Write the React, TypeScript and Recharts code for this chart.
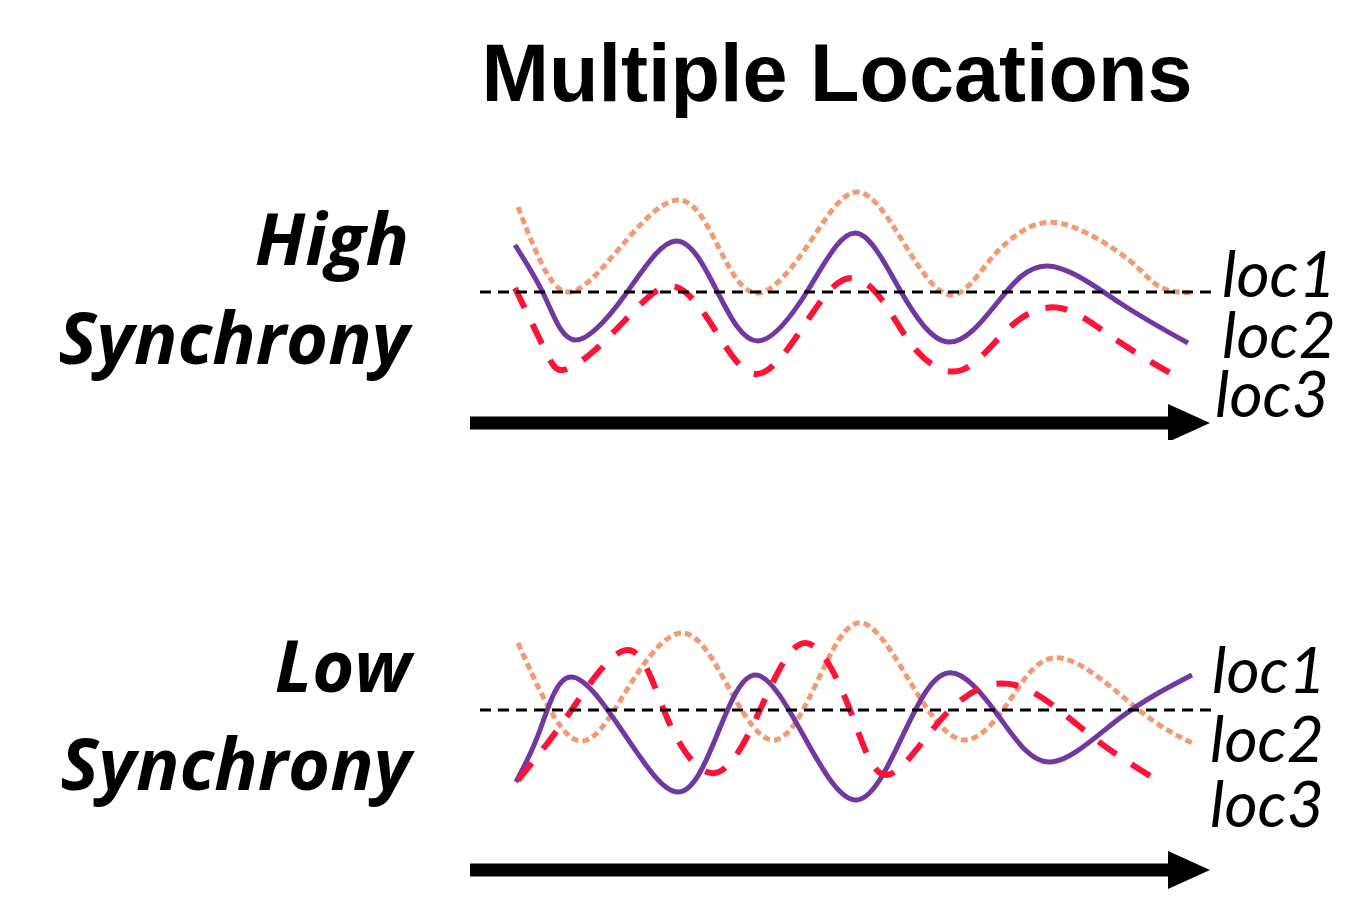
import React from "react";
import { LineChart, Line, XAxis, YAxis, ReferenceLine } from "recharts";

// time (t) and level (v) readings for each location, high synchrony panel
const highLoc1T = [4.8, 7, 10, 14.8, 20.8, 25, 28.8, 33.8, 38.7, 43.5, 48, 52, 56, 60.3, 65.9, 69, 72.5];
const highLoc1V = [8.5, 3.2, 0, 4.2, 9.2, 4.2, -0.1, 4.7, 10, 4.7, -0.3, 3.2, 6.5, 6.5, 3.2, 0.5, -0.1];
const highLoc2T = [4.5, 7.5, 10.5, 15.5, 20.6, 24.8, 28.8, 33.8, 38.5, 43, 47.8, 52.7, 57.8, 65, 71.8];
const highLoc2V = [4.7, -0.5, -4.8, -0.3, 5.1, -0.1, -4.9, 0.2, 5.9, 0.2, -5, -1.1, 2.6, -1.1, -5.1];
const highLoc3T = [4.5, 7.5, 9.3, 12.5, 16.5, 20.6, 24.7, 28.6, 32.9, 37.3, 41.2, 44.6, 49.2, 54, 59, 64.2, 69.5, 71];
const highLoc3V = [0.4, -5.8, -7.8, -5.8, -1.8, 0.5, -4.1, -8.2, -4.1, 1.2, -0.8, -5.8, -7.8, -3.5, -1.6, -4.5, -7.8, -8.4];

// low synchrony panel
const lowLoc1T = [4.8, 10.6, 15.8, 21.3, 26, 30.5, 34.8, 39.2, 44.5, 49.4, 54, 59.1, 66.9, 72.2];
const lowLoc1V = [6.7, -3, 2.2, 7.7, 2, -3, 3, 8.7, 2, -3, 1, 5.2, 0, -3.3];
const lowLoc2T = [4.6, 7, 10.1, 15.5, 20.8, 24.7, 28.6, 33.6, 38.7, 43.3, 47.8, 53, 58.1, 65, 72.2];
const lowLoc2V = [-7.2, -2, 3.3, -2.5, -8.2, -2.5, 3.5, -3, -9, -2.5, 3.7, -0.8, -5.2, -0.8, 3.5];
const lowLoc3T = [4.8, 9.8, 15.8, 19.8, 24.5, 29, 33.5, 38, 41.7, 47.5, 54.5, 62, 69];
const lowLoc3V = [-7, -0.5, 6, -1, -6.3, 0, 6.7, 0, -6.5, -0.5, 2.5, -2.5, -7.2];

const locNames = ["loc1", "loc2", "loc3"];
const panelTitles = [["High", "Synchrony"], ["Low", "Synchrony"]];
const chartTitle = "Multiple Locations";

// time axis arrow (start, end) and level of arrow under each panel
const arrowSpan = [0, 74];
const highArrowLevel = -13.1;
const lowArrowLevel = -16;

const toPoints = (t: number[], v: number[]) => t.map((x, i) => ({ t: x, v: v[i] }));

const Arrow = (props: any) => {
  const { x1, y1, x2 } = props;
  const head = 42;
  return (
    <g>
      <line x1={x1} y1={y1} x2={x2 - head + 4} y2={y1} stroke="#000" strokeWidth={13} />
      <polygon points={`${x2 - head},${y1 - 19} ${x2},${y1} ${x2 - head},${y1 + 19}`} fill="#000" />
    </g>
  );
};

function Panel({ top, height, domain, arrowLevel, s1, s2, s3 }: any) {
  return (
    <div style={{ position: "absolute", left: 470, top, width: 750, height }}>
      <LineChart width={750} height={height} margin={{ top: 0, right: 0, bottom: 0, left: 0 }}>
        <XAxis type="number" dataKey="t" domain={[0, 75]} hide allowDataOverflow />
        <YAxis type="number" domain={domain} hide allowDataOverflow />
        <Line data={s1} dataKey="v" type="natural" stroke="#F29A72" strokeWidth={5} strokeDasharray="7 4" dot={false} activeDot={false} isAnimationActive={false} />
        <Line data={s2} dataKey="v" type="natural" stroke="#7038A0" strokeWidth={5} dot={false} activeDot={false} isAnimationActive={false} />
        <Line data={s3} dataKey="v" type="natural" stroke="#FF1238" strokeWidth={6} strokeDasharray="22 18" dot={false} activeDot={false} isAnimationActive={false} />
        <ReferenceLine segment={[{ x: 1, y: 0 }, { x: 74.5, y: 0 }]} stroke="#000" strokeWidth={3} strokeDasharray="11 7" ifOverflow="visible" />
        <ReferenceLine segment={[{ x: arrowSpan[0], y: arrowLevel }, { x: arrowSpan[1], y: arrowLevel }]} shape={Arrow} ifOverflow="visible" />
      </LineChart>
    </div>
  );
}

export default function App() {
  const sideFont = "'Open Sans', Lato, sans-serif";
  const locFont = "Lato, 'Open Sans', sans-serif";
  return (
    <div style={{ position: "absolute", left: 0, top: 0, width: 1346, height: 899, background: "#fff" }}>
      <Panel top={180} height={260} domain={[-14.8, 11.2]} arrowLevel={highArrowLevel}
        s1={toPoints(highLoc1T, highLoc1V)} s2={toPoints(highLoc2T, highLoc2V)} s3={toPoints(highLoc3T, highLoc3V)} />
      <Panel top={600} height={300} domain={[-19, 11]} arrowLevel={lowArrowLevel}
        s1={toPoints(lowLoc1T, lowLoc1V)} s2={toPoints(lowLoc2T, lowLoc2V)} s3={toPoints(lowLoc3T, lowLoc3V)} />

      <svg width={1346} height={899} style={{ position: "absolute", left: 0, top: 0, pointerEvents: "none" }}>
        <text x={837} y={101} textAnchor="middle" fontFamily="'Liberation Sans', Arial, sans-serif" fontWeight="bold" fontSize={81}>{chartTitle}</text>

        <text x={409} y={265} textAnchor="end" fontFamily={sideFont} fontWeight="bold" fontStyle="italic" fontSize={72}>{panelTitles[0][0]}</text>
        <text x={409} y={364} textAnchor="end" fontFamily={sideFont} fontWeight="bold" fontStyle="italic" fontSize={72}>{panelTitles[0][1]}</text>
        <text x={411} y={692} textAnchor="end" fontFamily={sideFont} fontWeight="bold" fontStyle="italic" fontSize={72}>{panelTitles[1][0]}</text>
        <text x={411} y={790} textAnchor="end" fontFamily={sideFont} fontWeight="bold" fontStyle="italic" fontSize={72}>{panelTitles[1][1]}</text>

        <text x={1222} y={297} fontFamily={locFont} fontStyle="italic" fontSize={64}>{locNames[0]}</text>
        <text x={1222} y={358} fontFamily={locFont} fontStyle="italic" fontSize={64}>{locNames[1]}</text>
        <text x={1215} y={417} fontFamily={locFont} fontStyle="italic" fontSize={64}>{locNames[2]}</text>
        <text x={1212} y={693} fontFamily={locFont} fontStyle="italic" fontSize={64}>{locNames[0]}</text>
        <text x={1210} y={762} fontFamily={locFont} fontStyle="italic" fontSize={64}>{locNames[1]}</text>
        <text x={1210} y={827} fontFamily={locFont} fontStyle="italic" fontSize={64}>{locNames[2]}</text>
      </svg>
    </div>
  );
}
